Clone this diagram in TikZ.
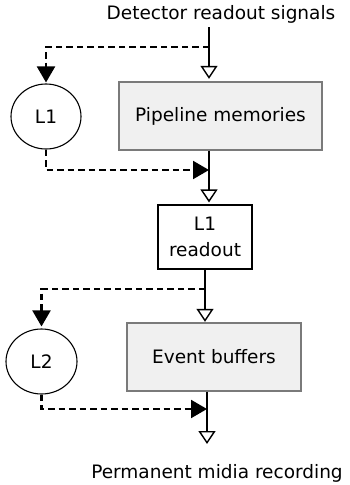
\documentclass[tikz,border=0pt]{standalone}
\usepackage{fontspec}
\setmainfont{DejaVu Sans}
\usetikzlibrary{arrows.meta,shapes.geometric}
\definecolor{boxfill}{HTML}{F0F0F0}
\definecolor{boxline}{HTML}{7A7A7A}
\begin{document}
\begin{tikzpicture}[x=1pt,y=-1pt,
  every node/.style={font=\fontsize{18.5}{22}\selectfont, inner sep=0pt},
  graybox/.style={draw=boxline, fill=boxfill, line width=1.3pt},
  blackbox/.style={draw=black, fill=white, line width=2.2pt, align=center},
  oval/.style={draw=black, ellipse, line width=1.1pt},
  flow/.style={line width=1.8pt, -{Triangle[open, length=13pt, width=17pt, line width=1.4pt]}},
  ctrl/.style={line width=2.1pt, dash pattern=on 6.5pt off 4pt, -{Triangle[length=16pt, width=18pt]}}
]
\useasboundingbox (0,0) rectangle (349,485);
\node[anchor=base] (title) at (221,19) {Detector readout signals};
\coordinate (in) at (209,27);
\node[graybox, minimum width=203pt, minimum height=68pt] (pipe) at (220.5,116) {Pipeline memories};
\node[oval, minimum width=70pt, minimum height=65pt] (L1) at (46,116.5) {L1};
\node[blackbox, minimum width=94pt, minimum height=64pt] (ro) at (205,237) {L1\\[4pt]readout};
\node[graybox, minimum width=174pt, minimum height=68pt] (ev) at (214,357) {Event buffers};
\node[oval, minimum width=71pt, minimum height=65pt] (L2) at (41.5,361.5) {L2};
\coordinate (out) at (207,444);
\node[anchor=base] (perm) at (217,478) {Permanent midia recording};
% main flow
\draw[flow, shorten >=2.5pt] (in) -- (in |- pipe.north);
\draw[flow, shorten >=1.5pt] (pipe.south -| in) -- (ro.north -| in);
\draw[flow, shorten >=0.5pt] (ro.south) -- (ro.south |- ev.north);
\draw[flow] (ev.south -| out) -- (out);
% control
\coordinate (b1) at (209,47);
\coordinate (m1) at (209,170);
\coordinate (b2) at (205,289);
\coordinate (m2) at (207,409);
\draw[ctrl, shorten >=1pt] (b1) -| (L1.north);
\draw[ctrl] (L1.south) |- (m1);
\draw[ctrl, shorten >=2pt] (b2) -| (L2.north);
\draw[ctrl] (L2.south) |- (m2);
\end{tikzpicture}
\end{document}
